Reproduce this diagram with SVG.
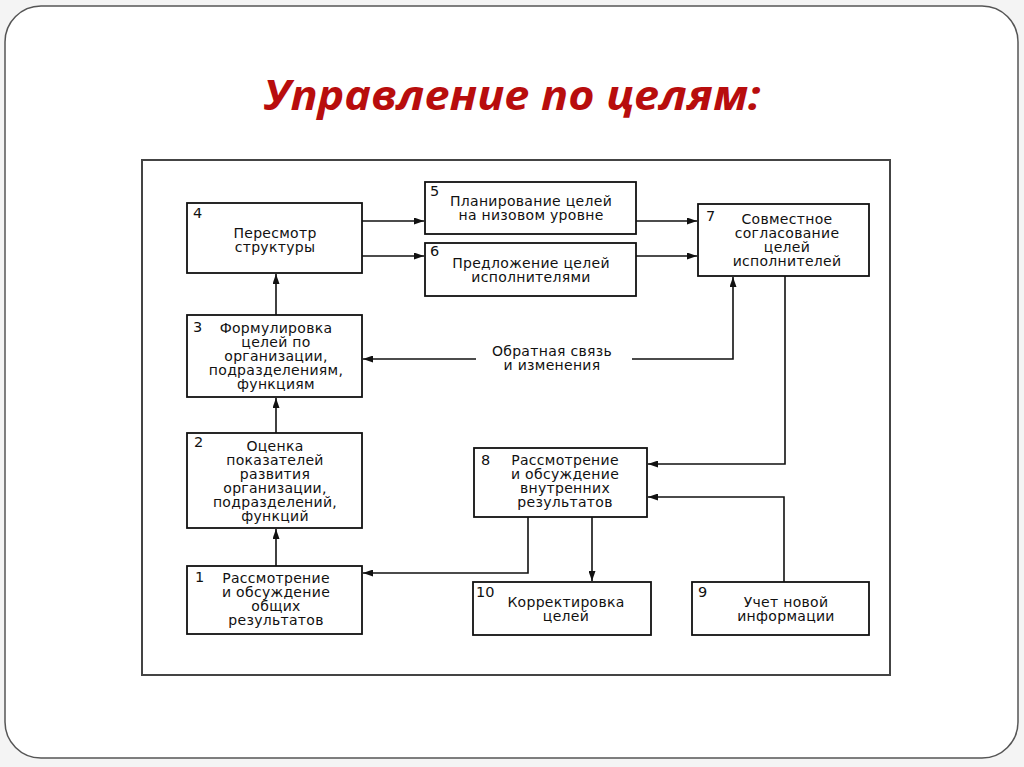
<svg xmlns="http://www.w3.org/2000/svg" width="1024" height="767" viewBox="0 0 1024 767">
<style>
.box{fill:#fff;stroke:#111;stroke-width:1.8}
.t{font-family:"DejaVu Sans","Liberation Sans",sans-serif;font-size:14px;letter-spacing:0.3px;fill:#111;text-anchor:middle}
.n{font-family:"DejaVu Sans","Liberation Sans",sans-serif;font-size:14.5px;fill:#111}
.c{fill:none;stroke:#111;stroke-width:1.6}
</style>
<defs>
<marker id="ah" markerUnits="userSpaceOnUse" markerWidth="10" markerHeight="7" refX="10" refY="3.5" orient="auto">
<path d="M0,0 L10,3.5 L0,7 z" fill="#111"/>
</marker>
</defs>
<rect x="0" y="0" width="1024" height="767" fill="#f4f4f4"/>
<rect x="5" y="6" width="1013" height="752" rx="36" ry="36" fill="#fff" stroke="#555" stroke-width="1.5"/>
<text x="512" y="110" font-family="'Open Sans','Liberation Sans',sans-serif" font-size="42" font-weight="bold" font-style="italic" fill="#b80d0d" text-anchor="middle" textLength="497" lengthAdjust="spacingAndGlyphs">Управление по целям:</text>
<rect x="142" y="160" width="748" height="515" fill="#fff" stroke="#444" stroke-width="2"/>

<g id="connectors">
<path class="c" d="M362,221 H424" marker-end="url(#ah)"/>
<path class="c" d="M362,256 H424" marker-end="url(#ah)"/>
<path class="c" d="M636,221 H697" marker-end="url(#ah)"/>
<path class="c" d="M636,256 H697" marker-end="url(#ah)"/>
<path class="c" d="M276,315 V274" marker-end="url(#ah)"/>
<path class="c" d="M276,433 V398" marker-end="url(#ah)"/>
<path class="c" d="M276,566 V529" marker-end="url(#ah)"/>
<path class="c" d="M476,359 H363" marker-end="url(#ah)"/>
<path class="c" d="M632,359 H733 V277" marker-end="url(#ah)"/>
<path class="c" d="M785,276 V464 H648" marker-end="url(#ah)"/>
<path class="c" d="M784,582 V497 H648" marker-end="url(#ah)"/>
<path class="c" d="M592,517 V581" marker-end="url(#ah)"/>
<path class="c" d="M528,517 V573 H363" marker-end="url(#ah)"/>
<text class="t" x="552" y="356">Обратная связь</text>
<text class="t" x="552" y="370">и изменения</text>
</g>

<g id="node4">
<rect class="box" x="187" y="203" width="175" height="70"/>
<text class="n" x="193" y="218">4</text>
<text class="t" x="275" y="238">Пересмотр</text>
<text class="t" x="275" y="252">структуры</text>
</g>
<g id="node5">
<rect class="box" x="425" y="182" width="211" height="52"/>
<text class="n" x="430" y="196">5</text>
<text class="t" x="531" y="206">Планирование целей</text>
<text class="t" x="531" y="220">на низовом уровне</text>
</g>
<g id="node6">
<rect class="box" x="425" y="243" width="211" height="53"/>
<text class="n" x="430" y="256">6</text>
<text class="t" x="531" y="268">Предложение целей</text>
<text class="t" x="531" y="282">исполнителями</text>
</g>
<g id="node7">
<rect class="box" x="698" y="204" width="171" height="72"/>
<text class="n" x="706" y="221">7</text>
<text class="t" x="787" y="224">Совместное</text>
<text class="t" x="787" y="238">согласование</text>
<text class="t" x="787" y="252">целей</text>
<text class="t" x="787" y="266">исполнителей</text>
</g>
<g id="node3">
<rect class="box" x="187" y="315" width="175" height="82"/>
<text class="n" x="193" y="332">3</text>
<text class="t" x="276" y="333">Формулировка</text>
<text class="t" x="276" y="347">целей по</text>
<text class="t" x="276" y="361">организации,</text>
<text class="t" x="276" y="375">подразделениям,</text>
<text class="t" x="276" y="389">функциям</text>
</g>
<g id="node2">
<rect class="box" x="187" y="433" width="175" height="95"/>
<text class="n" x="194" y="447">2</text>
<text class="t" x="275" y="451">Оценка</text>
<text class="t" x="275" y="465">показателей</text>
<text class="t" x="275" y="479">развития</text>
<text class="t" x="275" y="493">организации,</text>
<text class="t" x="275" y="507">подразделений,</text>
<text class="t" x="275" y="521">функций</text>
</g>
<g id="node1">
<rect class="box" x="187" y="566" width="175" height="68"/>
<text class="n" x="195" y="582">1</text>
<text class="t" x="276" y="583">Рассмотрение</text>
<text class="t" x="276" y="597">и обсуждение</text>
<text class="t" x="276" y="611">общих</text>
<text class="t" x="276" y="625">результатов</text>
</g>
<g id="node8">
<rect class="box" x="474" y="448" width="173" height="69"/>
<text class="n" x="481" y="465">8</text>
<text class="t" x="565" y="465">Рассмотрение</text>
<text class="t" x="565" y="479">и обсуждение</text>
<text class="t" x="565" y="493">внутренних</text>
<text class="t" x="565" y="507">результатов</text>
</g>
<g id="node10">
<rect class="box" x="473" y="582" width="178" height="53"/>
<text class="n" x="476" y="597">10</text>
<text class="t" x="566" y="607">Корректировка</text>
<text class="t" x="566" y="621">целей</text>
</g>
<g id="node9">
<rect class="box" x="692" y="582" width="177" height="53"/>
<text class="n" x="698" y="597">9</text>
<text class="t" x="786" y="607">Учет новой</text>
<text class="t" x="786" y="621">информации</text>
</g>
</svg>
